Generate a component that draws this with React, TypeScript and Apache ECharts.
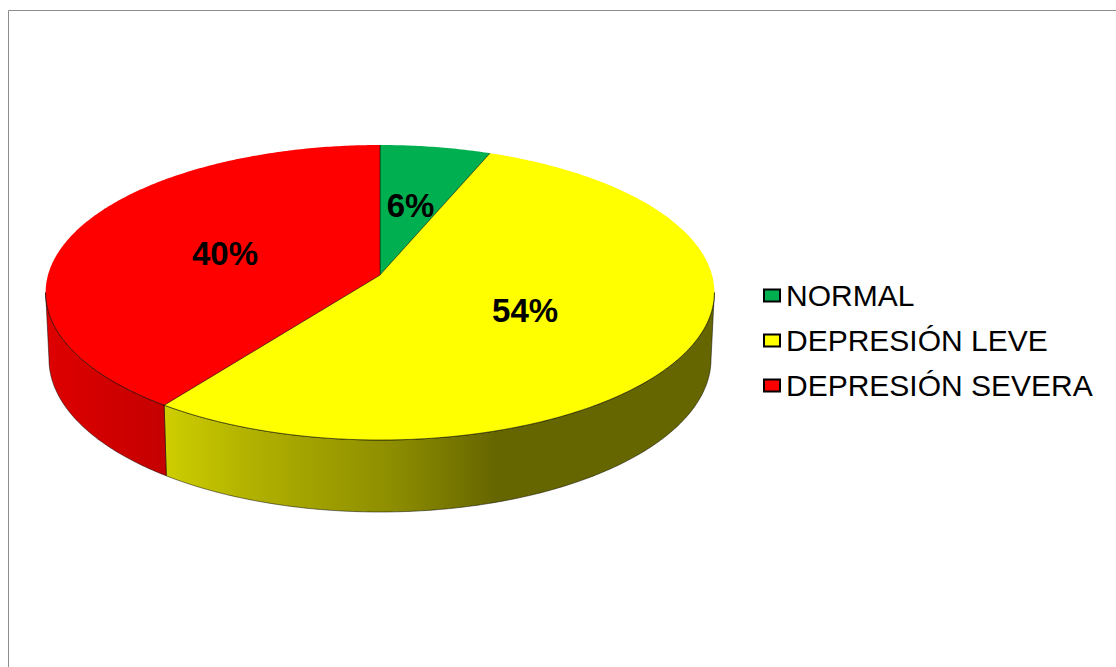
import React, { useEffect, useRef } from "react";
import * as echarts from "echarts";

const categories = ["NORMAL", "DEPRESIÓN LEVE", "DEPRESIÓN SEVERA"];
const values = [6, 54, 40];
const topColors = ["#00B050", "#FFFF00", "#FF0000"];
const labelFont = "Liberation Sans";

// Projection of the tilted disc on to the page
const CX = 380;
const CY = 275;
const FAR = 130;
const NEAR = 165;
const K = -(NEAR - FAR) / (NEAR + FAR);
const B = NEAR * (1 + K);
const A = 332;
const BASE_SCALE_X = 0.99;
const BASE_SCALE_Y = 1.037;
const BASE_BOTTOM = 512;
const LABEL_RADIUS = [0.52, 0.485, 0.5];
// Angles at which the rim reaches its widest point: only the part between
// them shows a side wall.
const FRONT_START = Math.PI - Math.acos(-K);
const FRONT_END = Math.PI * 2 - FRONT_START;

function project(angle: number, r: number, lower: boolean): number[] {
  const x = Math.sin(angle) * r;
  const y = -Math.cos(angle) * r;
  const d = 1 + K * y;
  const px = (A * x) / d;
  const py = (B * y) / d;
  if (lower) {
    return [
      CX + px * BASE_SCALE_X,
      BASE_BOTTOM - NEAR * BASE_SCALE_Y + py * BASE_SCALE_Y,
    ];
  }
  return [CX + px, CY + py];
}

function arcPoints(a0: number, a1: number, lower: boolean): number[][] {
  const n = Math.max(2, Math.ceil(Math.abs(a1 - a0) / 0.01));
  const pts: number[][] = [];
  for (let i = 0; i <= n; i++) {
    pts.push(project(a0 + ((a1 - a0) * i) / n, 1, lower));
  }
  return pts;
}

function sideFill(index: number) {
  const stops =
    index === 1
      ? [
          { offset: 0, color: "#CECE00" },
          { offset: 0.15, color: "#B2B200" },
          { offset: 0.29, color: "#9E9E00" },
          { offset: 0.42, color: "#8C8C00" },
          { offset: 0.6, color: "#666600" },
          { offset: 1, color: "#666600" },
        ]
      : [
          { offset: 0, color: "#DE0000" },
          { offset: 1, color: "#C40000" },
        ];
  const [x0, x2] = index === 1 ? [165, 715] : [45, 168];
  return {
    type: "linear",
    x: x0,
    y: 0,
    x2,
    y2: 0,
    global: true,
    colorStops: stops,
  };
}

const total = values.reduce((a, b) => a + b, 0);

function makeSeries(index: number) {
  const before = values.slice(0, index).reduce((a, b) => a + b, 0);
  return {
    type: "custom",
    name: categories[index],
    coordinateSystem: "none",
    itemStyle: { color: topColors[index] },
    data: [[values[index]]],
    z: index + 2,
    renderItem: (_p: unknown, api: any) => {
      const v = api.value(0);
      const a0 = (before / total) * Math.PI * 2;
      const a1 = ((before + v) / total) * Math.PI * 2;
      const upper = arcPoints(a0, a1, false);
      const mid = project((a0 + a1) / 2, LABEL_RADIUS[index], false);
      const f0 = Math.max(a0, FRONT_START);
      const f1 = Math.min(a1, FRONT_END);
      const children: any[] = [];
      if (f1 > f0) {
        children.push({
          type: "polygon",
          shape: {
            points: [
              ...arcPoints(f0, f1, false),
              ...arcPoints(f0, f1, true).reverse(),
            ],
          },
          style: {
            fill: sideFill(index),
            stroke: "rgba(0,0,0,0.7)",
            lineWidth: 0.7,
          },
        });
      }
      children.push(
        {
          type: "polygon",
          shape: { points: [[CX, CY], ...upper] },
          style: { fill: topColors[index] },
        },
        {
          type: "polyline",
          shape: { points: [upper[0], [CX, CY], upper[upper.length - 1]] },
          style: { fill: "none", stroke: "rgba(0,0,0,0.55)", lineWidth: 0.8 },
        }
      );
      if (f1 > f0) {
        children.push({
          type: "polyline",
          shape: { points: arcPoints(f0, f1, false) },
          style: { fill: "none", stroke: "rgba(0,0,0,0.7)", lineWidth: 0.8 },
        });
      }
      children.push({
        type: "text",
        x: mid[0],
        y: mid[1] + 1,
        style: {
          text: `${v}%`,
          fill: "#000",
          font: `bold 33px "${labelFont}"`,
          align: "center",
          verticalAlign: "middle",
        },
      });
      return { type: "group", children };
    },
  };
}

export default function App() {
  const ref = useRef<HTMLDivElement>(null);
  useEffect(() => {
    const chart = echarts.init(ref.current!, null, { renderer: "svg" });
    chart.setOption({
      animation: false,
      backgroundColor: "#fff",
      legend: {
        orient: "vertical",
        left: 763,
        top: 279,
        data: categories,
        icon: "rect",
        itemWidth: 16,
        itemHeight: 12,
        itemGap: 12,
        padding: 0,
        selectedMode: false,
        itemStyle: { borderColor: "#000", borderWidth: 2 },
        textStyle: {
          fontFamily: labelFont,
          fontSize: 30,
          color: "#000",
          padding: [0, 0, 0, 1],
          lineHeight: 33,
        },
      },
      graphic: [
        {
          type: "polyline",
          shape: { points: [[8.5, 667], [8.5, 10.5], [1116, 10.5]] },
          style: { stroke: "#8c8c8c", fill: "none", lineWidth: 1 },
        },
      ],
      series: values.map((_, i) => makeSeries(i)),
    });
    return () => chart.dispose();
  }, []);
  return (
    <div
      ref={ref}
      style={{ position: "fixed", left: 0, top: 0, width: 1116, height: 667 }}
    />
  );
}
